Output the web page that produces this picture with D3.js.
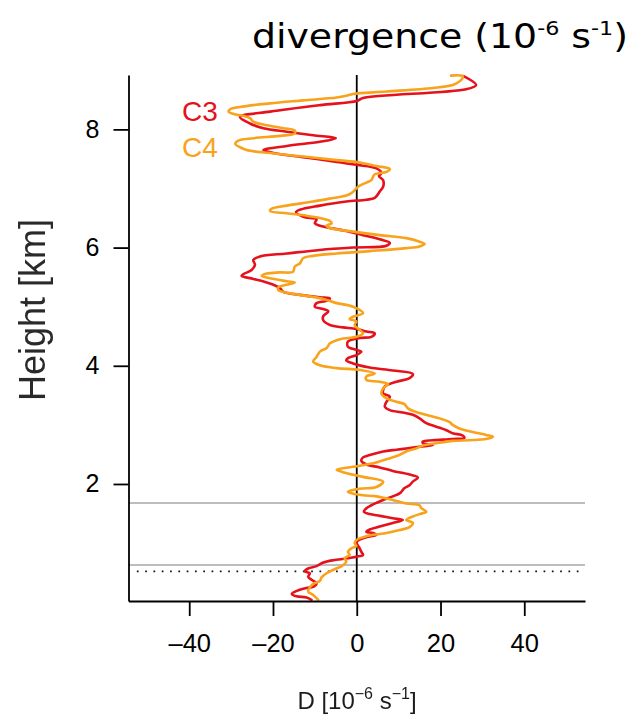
<!DOCTYPE html>
<html>
<head>
<meta charset="utf-8">
<script src="https://cdn.jsdelivr.net/npm/d3@7/dist/d3.min.js"></script>
<style>
  html, body { margin: 0; padding: 0; background: #fff; }
  svg { display: block; }
</style>
</head>
<body>
<svg id="chart" width="639" height="715"></svg>
<script>
// Divergence profiles (10^-6 s^-1) against height (km) for two cases
const heightC3 = [8.90, 8.75, 8.68, 8.53, 8.48, 8.41, 8.30, 8.21, 8.10, 8.02, 7.96, 7.90, 7.85, 7.79, 7.72, 7.65, 7.60, 7.53, 7.45, 7.40,
  7.34, 7.26, 7.21, 7.14, 7.03, 6.95, 6.84, 6.81, 6.78, 6.71, 6.64, 6.60, 6.52, 6.48, 6.41, 6.37, 6.28, 6.21, 6.14, 6.08,
  6.03, 6.00, 5.96, 5.90, 5.85, 5.79, 5.71, 5.62, 5.55, 5.52, 5.47, 5.41, 5.37, 5.31, 5.25, 5.20, 5.16, 5.14, 5.10, 5.06,
  5.00, 4.96, 4.92, 4.84, 4.77, 4.69, 4.65, 4.63, 4.61, 4.58, 4.55, 4.49, 4.47, 4.41, 4.32, 4.27, 4.24, 4.18, 4.13, 4.09,
  4.04, 3.97, 3.92, 3.86, 3.79, 3.73, 3.65, 3.59, 3.53, 3.48, 3.39, 3.31, 3.25, 3.21, 3.17, 3.11, 3.03, 2.97, 2.91, 2.86,
  2.82, 2.78, 2.76, 2.74, 2.72, 2.69, 2.66, 2.63, 2.60, 2.58, 2.55, 2.49, 2.45, 2.39, 2.33, 2.28, 2.22, 2.16, 2.11, 2.04,
  1.98, 1.93, 1.85, 1.79, 1.73, 1.68, 1.64, 1.59, 1.53, 1.49, 1.46, 1.42, 1.39, 1.34, 1.28, 1.23, 1.19, 1.17, 1.14, 1.10,
  1.06, 1.02, 0.91, 0.85, 0.80, 0.77, 0.74, 0.71, 0.67, 0.61, 0.57, 0.52, 0.49, 0.43, 0.38, 0.32, 0.26, 0.24, 0.21, 0.14,
  0.10, 0.08, 0.04];
const divC3 = [25.5, 28.5, 26.1, 1.5, 0.0, -8.8, -20.7, -27.9, -25.5, -22.3, -16.7, -10.4, -5.0, -8.8, -16.7, -22.3, -19.9, -12.8, -4.8, 0.0,
  4.7, 5.9, 5.3, 6.3, 6.3, 5.5, 4.3, 2.3, -2.5, -8.8, -13.6, -14.5, -12.8, -9.6, -10.0, -8.8, -2.5, 1.5, 5.5, 7.9,
  7.1, -0.9, -8.8, -16.7, -23.1, -24.7, -24.3, -25.1, -27.1, -27.5, -24.7, -21.5, -19.9, -18.3, -17.5, -13.6, -8.8, -6.4, -7.2, -9.6,
  -10.0, -8.0, -6.8, -8.0, -8.0, -6.4, -3.3, -0.9, 0.7, 2.3, 4.3, 3.5, 0.7, -2.1, -2.1, -0.1, 1.1, -0.1, -2.1, -2.5,
  -0.9, 3.1, 8.6, 13.4, 12.6, 9.5, 6.7, 6.3, 6.3, 7.9, 7.1, 6.7, 7.9, 11.0, 13.4, 15.0, 16.6, 19.0, 21.4, 22.9,
  25.3, 25.7, 22.9, 18.2, 15.8, 15.8, 18.2, 15.0, 11.8, 9.5, 6.3, 3.1, 1.5, 1.1, 2.3, 5.5, 8.6, 12.6, 14.6, 13.4,
  12.6, 11.4, 10.4, 8.6, 6.3, 4.7, 3.5, 2.3, 1.7, 3.1, 5.5, 8.6, 11.0, 8.6, 5.5, 3.1, 2.3, 3.9, 4.7, 2.3,
  0.7, -0.1, 0.7, 1.1, 1.5, -0.1, -2.5, -5.6, -8.0, -9.6, -11.6, -12.4, -11.2, -11.6, -10.8, -9.6, -10.4, -12.0, -13.6, -15.5,
  -14.4, -12.0, -10.8];

const heightC4 = [8.91, 8.90, 8.86, 8.81, 8.75, 8.70, 8.64, 8.60, 8.57, 8.54, 8.49, 8.44, 8.38, 8.34, 8.30, 8.26, 8.23, 8.19, 8.13, 8.07,
  8.02, 7.98, 7.93, 7.89, 7.85, 7.81, 7.75, 7.70, 7.65, 7.60, 7.54, 7.48, 7.44, 7.38, 7.33, 7.28, 7.24, 7.17, 7.14, 7.10,
  7.03, 6.97, 6.92, 6.88, 6.84, 6.78, 6.71, 6.66, 6.62, 6.58, 6.54, 6.50, 6.45, 6.41, 6.37, 6.33, 6.27, 6.21, 6.16, 6.10,
  6.06, 6.02, 5.99, 5.94, 5.90, 5.86, 5.82, 5.73, 5.68, 5.59, 5.58, 5.56, 5.52, 5.48, 5.43, 5.41, 5.37, 5.33, 5.28, 5.25,
  5.20, 5.13, 5.06, 5.00, 4.89, 4.83, 4.79, 4.75, 4.69, 4.63, 4.55, 4.49, 4.45, 4.38, 4.30, 4.24, 4.15, 4.07, 4.01, 3.96,
  3.93, 3.87, 3.82, 3.76, 3.73, 3.69, 3.62, 3.53, 3.45, 3.39, 3.35, 3.28, 3.20, 3.11, 3.05, 3.00, 2.94, 2.88, 2.83, 2.80,
  2.76, 2.74, 2.73, 2.69, 2.65, 2.60, 2.55, 2.49, 2.42, 2.35, 2.29, 2.24, 2.20, 2.12, 2.04, 1.95, 1.92, 1.87, 1.84, 1.81,
  1.79, 1.73, 1.67, 1.64, 1.59, 1.53, 1.49, 1.45, 1.39, 1.34, 1.27, 1.22, 1.17, 1.14, 1.10, 1.05, 1.00, 0.95, 0.91, 0.85,
  0.80, 0.74, 0.69, 0.61, 0.56, 0.49, 0.42, 0.36, 0.31, 0.25, 0.18, 0.12, 0.04];
const divC4 = [22.5, 25.3, 25.2, 24.5, 22.9, 18.2, 7.1, -0.9, -2.5, -4.8, -12.8, -20.7, -27.9, -30.2, -30.6, -29.4, -27.1, -25.5, -24.7, -21.5,
  -17.5, -14.8, -14.8, -18.3, -24.7, -28.3, -29.0, -27.9, -26.3, -20.7, -12.8, -4.8, 0.7, 4.7, 7.9, 7.1, 4.3, 3.7, 3.5, 2.3,
  0.3, -0.5, -1.3, -2.5, -5.6, -10.4, -16.7, -20.3, -20.7, -16.7, -12.0, -8.8, -6.4, -6.0, -7.2, -6.4, -0.9, 5.5, 11.8, 15.0,
  16.2, 15.0, 11.8, 3.1, -4.8, -10.4, -12.8, -13.6, -14.8, -15.2, -18.3, -21.5, -22.7, -20.7, -16.7, -14.8, -16.7, -18.7, -18.7, -17.5,
  -13.6, -8.0, -4.8, -0.9, 1.5, -0.9, -1.7, -0.1, -0.5, 0.3, 1.5, -0.1, -4.0, -6.4, -7.2, -8.8, -9.6, -10.4, -8.8, -4.8,
  0.7, 4.3, 2.3, 2.3, 5.5, 7.5, 6.3, 5.9, 7.1, 9.5, 11.4, 12.2, 15.0, 19.8, 22.1, 22.9, 24.5, 27.7, 30.9, 32.5,
  30.9, 26.9, 22.9, 19.0, 15.8, 14.2, 11.8, 10.2, 7.1, 3.9, -0.9, -4.8, -3.3, 1.5, 6.3, 4.7, 0.7, -2.1, -1.0, 1.5,
  4.7, 8.6, 11.8, 15.0, 15.4, 16.6, 15.0, 13.4, 11.8, 13.4, 12.6, 10.2, 7.1, 3.9, 1.5, -0.1, -0.5, -0.1, -1.3, -2.1,
  -1.7, -2.9, -2.5, -3.6, -5.2, -7.2, -8.4, -8.8, -10.4, -11.2, -11.6, -10.4, -9.2];

const seriesNames = ["C3", "C4"];
const seriesColors = ["#e5121c", "#f8a31b"];
const xTicks = [-40, -20, 0, 20, 40];
const yTicks = [2, 4, 6, 8];
const xDomain = [-54.5, 54.5];
const yDomain = [0.02, 8.92];
// reference levels (km): two solid grey lines and one dotted line
const greyLevels = [1.68, 0.63];
const dottedLevel = 0.52;

const svg = d3.select("#chart");
const margin = { left: 128.5, right: 585, top: 75, bottom: 601 };

const x = d3.scaleLinear().domain(xDomain).range([margin.left, margin.right]);
const y = d3.scaleLinear().domain(yDomain).range([margin.bottom, margin.top]);

svg.append("rect").attr("width", 639).attr("height", 715).attr("fill", "#fff");

const defs = svg.append("defs");
defs.append("filter").attr("id", "soft")
  .append("feGaussianBlur").attr("stdDeviation", 0.5);

// reference levels
svg.selectAll("line.grey").data(greyLevels).enter().append("line")
  .attr("class", "grey")
  .attr("x1", margin.left).attr("x2", margin.right)
  .attr("y1", d => y(d)).attr("y2", d => y(d))
  .attr("stroke", "#bdbdbd").attr("stroke-width", 2);

svg.append("line")
  .attr("x1", x(-52.5)).attr("x2", margin.right)
  .attr("y1", y(dottedLevel)).attr("y2", y(dottedLevel))
  .attr("stroke", "#111").attr("stroke-width", 1.7)
  .attr("stroke-dasharray", "1.7,6.6");

// zero line
svg.append("line")
  .attr("x1", x(0)).attr("x2", x(0))
  .attr("y1", margin.top).attr("y2", margin.bottom)
  .attr("stroke", "#000").attr("stroke-width", 1.8);

// profiles
const series = [
  { h: heightC3, d: divC3 },
  { h: heightC4, d: divC4 }
];
const line = d3.line()
  .x(p => x(p[0]))
  .y(p => y(p[1]))
  .curve(d3.curveCatmullRom.alpha(0.5));

series.forEach((s, i) => {
  const pts = s.h.map((h, j) => [s.d[j], h]);
  svg.append("path")
    .attr("d", line(pts))
    .attr("fill", "none")
    .attr("stroke", seriesColors[i])
    .attr("stroke-width", 2.6)
    .attr("stroke-linejoin", "round")
    .attr("stroke-linecap", "round");
});

// axes
const tickFont = "'Liberation Sans', Arial, Helvetica, sans-serif";

const xAxis = svg.append("g")
  .attr("transform", `translate(0,${margin.bottom})`)
  .call(d3.axisBottom(x).tickValues(xTicks).tickSize(15).tickPadding(18)
    .tickSizeOuter(0).tickFormat(d => d < 0 ? "\u2013" + Math.abs(d) : String(d)));
xAxis.select(".domain").attr("stroke", "#000").attr("stroke-width", 1.8);
xAxis.selectAll(".tick line").attr("stroke", "#000").attr("stroke-width", 1.8);
xAxis.selectAll(".tick text")
  .attr("fill", "#000").attr("font-family", tickFont).attr("font-size", 25.5);

const yAxis = svg.append("g")
  .attr("transform", `translate(${margin.left},0)`)
  .call(d3.axisLeft(y).tickValues(yTicks).tickSize(15).tickPadding(14).tickSizeOuter(0));
yAxis.select(".domain").attr("stroke", "#000").attr("stroke-width", 1.8);
yAxis.selectAll(".tick line").attr("stroke", "#000").attr("stroke-width", 1.8);
yAxis.selectAll(".tick text")
  .attr("fill", "#000").attr("font-family", tickFont).attr("font-size", 25);

// axis titles
svg.append("text")
  .attr("transform", "translate(45,310) rotate(-90)")
  .attr("text-anchor", "middle")
  .attr("font-family", tickFont).attr("font-size", 36)
  .attr("fill", "#2b2b2b").attr("filter", "url(#soft)")
  .text("Height [km]");

const xt = svg.append("text")
  .attr("x", 357).attr("y", 709)
  .attr("text-anchor", "middle")
  .attr("font-family", tickFont).attr("font-size", 24)
  .attr("fill", "#1e1e1e").attr("filter", "url(#soft)");
xt.append("tspan").text("D [10");
xt.append("tspan").attr("dy", -10).attr("font-size", 16).text("\u22126");
xt.append("tspan").attr("dy", 10).text(" s");
xt.append("tspan").attr("dy", -10).attr("font-size", 16).text("\u22121");
xt.append("tspan").attr("dy", 10).text("]");

// title
const title = svg.append("text")
  .attr("x", 252).attr("y", 48)
  .attr("font-family", "'DejaVu Sans', sans-serif").attr("font-size", 34)
  .attr("fill", "#000")
  .attr("textLength", 376).attr("lengthAdjust", "spacingAndGlyphs");
title.append("tspan").text("divergence (10");
title.append("tspan").attr("dy", -13).attr("font-size", 20).text("-6");
title.append("tspan").attr("dy", 13).text(" s");
title.append("tspan").attr("dy", -13).attr("font-size", 20).text("-1");
title.append("tspan").attr("dy", 13).text(")");

// legend
svg.selectAll("text.legend").data(seriesNames).enter().append("text")
  .attr("class", "legend")
  .attr("x", 182).attr("y", (d, i) => 121 + i * 36)
  .attr("font-family", tickFont).attr("font-size", 28)
  .attr("fill", (d, i) => seriesColors[i])
  .text(d => d);
</script>
</body>
</html>
